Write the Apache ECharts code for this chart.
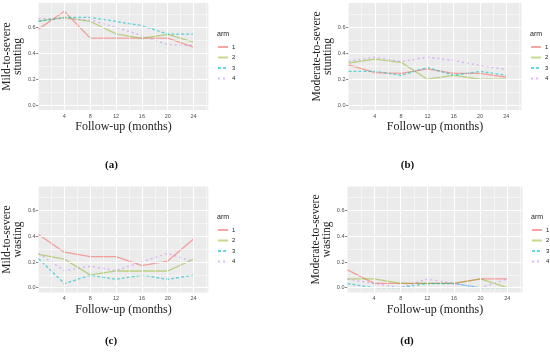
<!DOCTYPE html>
<html>
<head>
<meta charset="utf-8">
<script src="https://cdn.jsdelivr.net/npm/echarts@6/dist/echarts.min.js"></script>
<style>html,body{margin:0;padding:0;background:#fff;}#c{width:550px;height:357px;}</style>
</head>
<body>
<div id="c"></div>
<script>
// ---- data ----
var months = [0, 4, 8, 12, 16, 20, 24];
var arms = ['1', '2', '3', '4'];
var xTicks = [4, 8, 12, 16, 20, 24];
var xMinor = [2, 6, 10, 14, 18, 22, 26];
var yTicks = [0, 0.2, 0.4, 0.6];
var yMinor = [0.1, 0.3, 0.5, 0.7];

var aArm1 = [0.586, 0.724, 0.517, 0.517, 0.517, 0.517, 0.448];
var aArm2 = [0.650, 0.675, 0.645, 0.550, 0.515, 0.545, 0.485];
var aArm3 = [0.645, 0.677, 0.677, 0.645, 0.613, 0.548, 0.548];
var aArm4 = [0.667, 0.667, 0.656, 0.600, 0.536, 0.467, 0.460];

var bArm1 = [0.310, 0.250, 0.245, 0.280, 0.245, 0.245, 0.215];
var bArm2 = [0.325, 0.355, 0.330, 0.200, 0.230, 0.200, 0.200];
var bArm3 = [0.260, 0.260, 0.230, 0.290, 0.230, 0.260, 0.230];
var bArm4 = [0.340, 0.370, 0.335, 0.370, 0.345, 0.305, 0.275];

var cArm1 = [0.414, 0.276, 0.241, 0.241, 0.172, 0.207, 0.379];
var cArm2 = [0.259, 0.222, 0.100, 0.130, 0.130, 0.130, 0.222];
var cArm3 = [0.226, 0.032, 0.097, 0.065, 0.097, 0.065, 0.097];
var cArm4 = [0.267, 0.133, 0.167, 0.133, 0.200, 0.267, 0.200];

var dArm1 = [0.138, 0.034, 0.034, 0.034, 0.034, 0.069, 0.069];
var dArm2 = [0.069, 0.069, 0.034, 0.034, 0.034, 0.069, 0.000];
var dArm3 = [0.032, 0.000, 0.000, 0.032, 0.032, 0.000, 0.000];
var dArm4 = [0.067, 0.033, 0.000, 0.067, 0.033, 0.000, 0.067];

var yTitles = ['Mild-to-severe\nstunting', 'Moderate-to-severe\nstunting', 'Mild-to-severe\nwasting', 'Moderate-to-severe\nwasting'];
var captions = ['(a)', '(b)', '(c)', '(d)'];
var xTitle = 'Follow-up (months)';
var legendTitle = 'arm';

// ---- layout / style ----
var panels = [
  {data: [aArm1, aArm2, aArm3, aArm4], grid: {left: 35.4, top: 3, width: 173, height: 107}, yGap: 13, legend: {left: 217, top: 31}, cap: [111.5, 165]},
  {data: [bArm1, bArm2, bArm3, bArm4], grid: {left: 348.5, top: 3, width: 173, height: 107}, yGap: 13, legend: {left: 530, top: 31}, cap: [407.5, 165]},
  {data: [cArm1, cArm2, cArm3, cArm4], grid: {left: 35.4, top: 186.5, width: 173, height: 106}, yGap: 13, legend: {left: 217, top: 214}, cap: [111, 341]},
  {data: [dArm1, dArm2, dArm3, dArm4], grid: {left: 347.5, top: 186.5, width: 175, height: 106}, yGap: 15, legend: {left: 531, top: 214}, cap: [407, 341]}
];
var colors = ['rgba(248,118,109,0.65)', 'rgba(124,174,0,0.45)', 'rgba(0,191,196,0.6)', 'rgba(199,124,255,0.55)'];
var dashes = ['solid', 'solid', [3, 2], [2, 3]];
var serif = '"Liberation Serif", "DejaVu Serif", serif';
var sans = '"Liberation Sans", Arial, sans-serif';

var grids = [], xAxes = [], yAxes = [], series = [], legends = [], titles = [];
panels.forEach(function (p, i) {
  grids.push(Object.assign({show: true, backgroundColor: '#EBEBEB', borderWidth: 0}, p.grid));
  xAxes.push({
    type: 'value', gridIndex: i, min: 0, max: 26.3,
    axisLine: {show: false},
    axisTick: {show: true, length: 2.5, lineStyle: {color: '#333', width: 0.6}, customValues: xTicks},
    axisLabel: {fontSize: 5.5, color: '#4D4D4D', margin: 3, fontFamily: sans, customValues: xTicks},
    splitLine: {show: false},
    name: xTitle, nameLocation: 'middle', nameGap: 11,
    nameTextStyle: {fontFamily: serif, fontSize: 12, color: '#222'}
  });
  yAxes.push({
    type: 'value', gridIndex: i, min: -0.0375, max: 0.7875,
    axisLine: {show: false},
    axisTick: {show: true, length: 2.5, lineStyle: {color: '#333', width: 0.6}, customValues: yTicks},
    axisLabel: {fontSize: 5.5, color: '#4D4D4D', margin: 3, fontFamily: sans, customValues: yTicks,
      formatter: function (v) { return v.toFixed(1); }},
    splitLine: {show: false},
    name: yTitles[i], nameLocation: 'middle', nameRotate: 90, nameGap: p.yGap,
    nameTextStyle: {fontFamily: serif, fontSize: 11.5, color: '#222', lineHeight: 11}
  });
  // grid lines through the library's scales
  var ml = [];
  xMinor.forEach(function (v) { ml.push({xAxis: v, lineStyle: {color: '#fff', width: 0.5, type: 'solid'}}); });
  yMinor.forEach(function (v) { ml.push({yAxis: v, lineStyle: {color: '#fff', width: 0.5, type: 'solid'}}); });
  xTicks.forEach(function (v) { ml.push({xAxis: v, lineStyle: {color: '#fff', width: 1, type: 'solid'}}); });
  yTicks.forEach(function (v) { ml.push({yAxis: v, lineStyle: {color: '#fff', width: 1, type: 'solid'}}); });
  series.push({
    type: 'line', xAxisIndex: i, yAxisIndex: i, z: 1, silent: true, symbol: 'none',
    data: months.map(function (m, k) { return [m, p.data[0][k]]; }),
    lineStyle: {width: 0, opacity: 0},
    markLine: {silent: true, symbol: ['none', 'none'], label: {show: false}, animation: false, data: ml}
  });
  p.data.forEach(function (arr, j) {
    series.push({
      name: arms[j], type: 'line', xAxisIndex: i, yAxisIndex: i, z: 3, symbol: 'none',
      data: months.map(function (m, k) { return [m, arr[k]]; }),
      itemStyle: {color: colors[j]},
      lineStyle: {color: colors[j], width: 1.3, type: dashes[j]}
    });
  });
  legends.push({
    data: arms, orient: 'vertical', left: p.legend.left, top: p.legend.top + 13,
    itemWidth: 10, itemHeight: 6, itemGap: 4.5, padding: 0,
    itemStyle: {opacity: 0},
    textStyle: {fontSize: 6, color: '#222', fontFamily: sans, padding: [0, 0, 0, -1]},
    selectedMode: false
  });
  titles.push({text: legendTitle, left: p.legend.left, top: p.legend.top, padding: 0,
    textStyle: {fontSize: 7, fontWeight: 'normal', color: '#222', fontFamily: sans}});
  titles.push({text: captions[i], left: p.cap[0], top: p.cap[1], textAlign: 'center', textVerticalAlign: 'middle', padding: 0,
    textStyle: {fontSize: 11, fontWeight: 'bold', color: '#111', fontFamily: serif}});
});

var chart = echarts.init(document.getElementById('c'), null, {renderer: 'canvas'});
chart.setOption({
  animation: false,
  backgroundColor: '#fff',
  title: titles,
  legend: legends,
  grid: grids,
  xAxis: xAxes,
  yAxis: yAxes,
  series: series
});
</script>
</body>
</html>
